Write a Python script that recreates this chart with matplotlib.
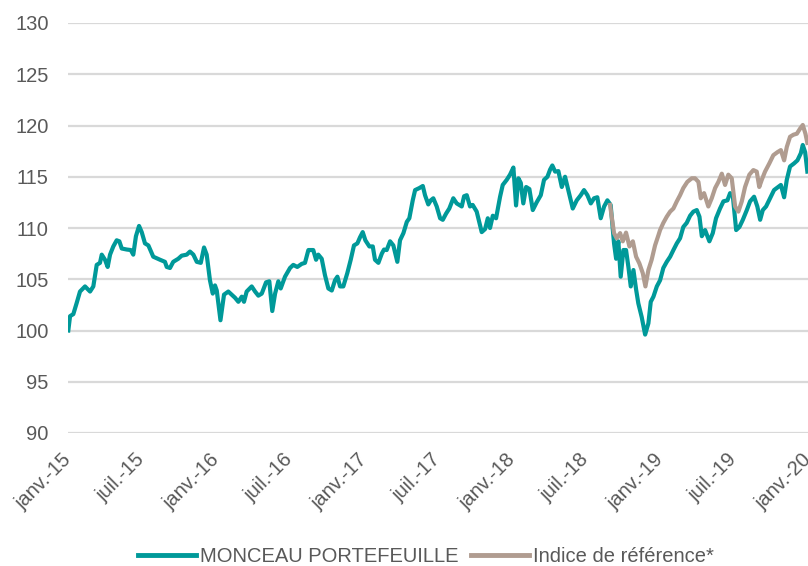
import matplotlib
matplotlib.use("Agg")
import matplotlib.pyplot as plt
import pandas as pd
import numpy as np

# ---- data (time as years elapsed since 1 Jan 2015) ----
fund_t = [0.002, 0.014, 0.036, 0.059, 0.081, 0.115, 0.149, 0.171, 0.194, 0.216, 0.228, 0.250,
          0.268, 0.284, 0.306, 0.329, 0.347, 0.363, 0.397, 0.424, 0.441, 0.459, 0.480, 0.498,
          0.520, 0.543, 0.576, 0.622, 0.655, 0.667, 0.689, 0.711, 0.745, 0.768, 0.802, 0.824,
          0.847, 0.870, 0.897, 0.919, 0.937, 0.959, 0.978, 0.993, 1.005, 1.030, 1.054, 1.083,
          1.106, 1.128, 1.151, 1.174, 1.189, 1.207, 1.241, 1.264, 1.286, 1.309, 1.338, 1.360,
          1.380, 1.399, 1.421, 1.437, 1.466, 1.500, 1.522, 1.549, 1.579, 1.601, 1.624, 1.657,
          1.676, 1.691, 1.714, 1.736, 1.759, 1.782, 1.804, 1.820, 1.838, 1.860, 1.887, 1.910,
          1.932, 1.955, 1.973, 1.991, 2.009, 2.036, 2.059, 2.074, 2.097, 2.120, 2.135, 2.153,
          2.176, 2.198, 2.225, 2.243, 2.266, 2.289, 2.306, 2.329, 2.345, 2.374, 2.397, 2.412,
          2.434, 2.451, 2.468, 2.491, 2.514, 2.532, 2.554, 2.576, 2.603, 2.626, 2.660, 2.676,
          2.694, 2.716, 2.734, 2.761, 2.795, 2.818, 2.836, 2.851, 2.870, 2.892, 2.919, 2.937,
          2.964, 2.986, 3.009, 3.027, 3.043, 3.059, 3.076, 3.095, 3.117, 3.140, 3.166, 3.194,
          3.216, 3.239, 3.257, 3.272, 3.291, 3.313, 3.336, 3.358, 3.380, 3.410, 3.437, 3.464,
          3.486, 3.509, 3.532, 3.554, 3.576, 3.599, 3.622, 3.644, 3.666, 3.689, 3.703, 3.718,
          3.734, 3.752, 3.770, 3.786, 3.802, 3.820, 3.838, 3.853, 3.876, 3.899, 3.921, 3.937,
          3.955, 3.978, 4.000, 4.022, 4.045, 4.068, 4.090, 4.113, 4.135, 4.157, 4.180, 4.203,
          4.225, 4.248, 4.266, 4.282, 4.304, 4.333, 4.356, 4.378, 4.405, 4.428, 4.455, 4.473,
          4.491, 4.514, 4.536, 4.559, 4.586, 4.608, 4.635, 4.657, 4.676, 4.694, 4.716, 4.743,
          4.770, 4.793, 4.816, 4.838, 4.856, 4.878, 4.905, 4.928, 4.951, 4.964, 4.980, 4.995]
fund_v = [100.0, 101.4, 101.6, 102.7, 103.8, 104.3, 103.8, 104.3, 106.4, 106.6, 107.4, 106.9,
          106.2, 107.4, 108.2, 108.8, 108.7, 108.0, 107.9, 107.85, 107.4, 109.2, 110.2, 109.6,
          108.5, 108.3, 107.2, 106.9, 106.7, 106.2, 106.1, 106.7, 107.0, 107.3, 107.4, 107.7,
          107.4, 106.7, 106.6, 108.1, 107.4, 104.9, 103.6, 104.4, 103.9, 101.0, 103.5, 103.8,
          103.5, 103.2, 102.8, 103.3, 102.8, 103.8, 104.3, 103.8, 103.4, 103.6, 104.7, 104.8,
          101.9, 103.6, 104.8, 104.1, 105.25, 106.1, 106.4, 106.2, 106.5, 106.6, 107.85, 107.85,
          106.9, 107.4, 107.0, 105.4, 104.1, 103.9, 104.9, 105.25, 104.3, 104.3, 105.6, 106.9,
          108.3, 108.5, 109.1, 109.6, 108.8, 108.2, 108.2, 106.9, 106.6, 107.5, 107.9, 107.85,
          108.7, 108.3, 106.7, 108.8, 109.5, 110.6, 110.95, 112.7, 113.7, 113.9, 114.1, 113.2,
          112.3, 112.7, 112.9, 112.1, 110.95, 110.8, 111.4, 111.9, 112.9, 112.4, 112.1, 113.1,
          113.2, 112.1, 112.25, 111.6, 109.6, 109.9, 110.95, 110.0, 111.2, 110.95, 113.05, 114.2,
          114.7, 115.2, 115.9, 112.2, 114.85, 114.4, 112.4, 114.0, 113.8, 111.75, 112.5, 113.2,
          114.7, 115.0, 115.7, 116.1, 115.5, 115.55, 114.0, 115.0, 113.7, 111.9, 112.7, 113.2,
          113.7, 113.2, 112.4, 112.9, 113.0, 110.95, 112.1, 112.7, 112.25, 108.5, 107.0, 108.7,
          105.25, 107.85, 107.85, 106.2, 104.3, 105.9, 104.0, 102.65, 101.3, 99.6, 100.7, 102.8,
          103.3, 104.3, 104.9, 106.1, 106.7, 107.2, 107.85, 108.5, 109.0, 110.1, 110.5, 111.2,
          111.6, 111.75, 111.1, 109.2, 109.8, 108.7, 109.5, 110.95, 111.9, 112.6, 112.7, 113.4,
          113.2, 109.8, 110.1, 110.8, 111.75, 112.6, 113.05, 112.1, 110.8, 111.75, 112.1, 112.9,
          113.7, 113.95, 114.2, 113.0, 114.7, 116.0, 116.3, 116.6, 117.3, 118.1, 117.4, 115.5]

index_t = [3.662, 3.689, 3.707, 3.730, 3.748, 3.770, 3.793, 3.816, 3.838, 3.860, 3.883, 3.901,
           3.921, 3.943, 3.966, 3.989, 4.000, 4.022, 4.045, 4.068, 4.090, 4.113, 4.135, 4.157,
           4.184, 4.214, 4.236, 4.259, 4.275, 4.297, 4.326, 4.349, 4.372, 4.394, 4.417, 4.439,
           4.461, 4.484, 4.507, 4.529, 4.552, 4.574, 4.603, 4.630, 4.653, 4.670, 4.687, 4.709,
           4.738, 4.765, 4.793, 4.816, 4.838, 4.856, 4.878, 4.901, 4.924, 4.946, 4.964, 4.982,
           4.995]
index_v = [112.25, 109.5, 109.0, 109.5, 108.7, 109.55, 108.2, 108.7, 107.2, 106.55, 105.6, 104.3,
           105.9, 106.9, 108.3, 109.3, 109.8, 110.5, 111.1, 111.6, 111.9, 112.6, 113.2, 113.9,
           114.5, 114.85, 114.85, 114.5, 112.9, 113.4, 112.1, 112.9, 113.9, 114.5, 115.3, 114.2,
           115.2, 114.85, 112.1, 111.6, 112.6, 114.0, 115.2, 115.65, 115.5, 114.0, 114.7, 115.5,
           116.3, 117.1, 117.4, 117.6, 116.6, 117.9, 118.9, 119.1, 119.2, 119.7, 120.05, 119.2,
           118.3]

tick_dates = ["2015-01-01", "2015-07-01", "2016-01-01", "2016-07-01", "2017-01-01", "2017-07-01",
              "2018-01-01", "2018-07-01", "2019-01-01", "2019-07-01", "2020-01-01"]
tick_labels = ["janv.-15", "juil.-15", "janv.-16", "juil.-16", "janv.-17", "juil.-17",
               "janv.-18", "juil.-18", "janv.-19", "juil.-19", "janv.-20"]
series_names = ["MONCEAU PORTEFEUILLE", "Indice de référence*"]
y_ticks = [90, 95, 100, 105, 110, 115, 120, 125, 130]

# ---- build ----
origin = pd.Timestamp("2015-01-01")
def to_dates(t):
    return origin + pd.to_timedelta(np.asarray(t) * 365.25, unit="D")

plt.rcParams["font.family"] = ["Liberation Sans", "DejaVu Sans"]

fig = plt.figure(figsize=(8.08, 5.66), dpi=100)
ax = fig.add_axes([68 / 808, 1 - 433 / 566, 1 - 68 / 808, (433 - 23) / 566])

teal = "#009999"
brown = "#b09c90"
ax.plot(to_dates(fund_t), fund_v, color=teal, lw=3.0, solid_joinstyle="round",
        label=series_names[0], zorder=3)
ax.plot(to_dates(index_t), index_v, color=brown, lw=3.0, solid_joinstyle="round",
        label=series_names[1], zorder=4)

ax.set_xlim(pd.Timestamp(tick_dates[0]), pd.Timestamp(tick_dates[-1]))
ax.set_ylim(90, 130)
ax.set_yticks(y_ticks)
ax.set_xticks(pd.to_datetime(tick_dates))
ax.set_xticklabels(tick_labels, rotation=45, ha="right", va="center",
                   rotation_mode="anchor")
ax.grid(axis="y", color="#d9d9d9", lw=1.6)
ax.set_axisbelow(True)
for s in ax.spines.values():
    s.set_visible(False)
ax.tick_params(axis="y", length=0, pad=14, labelsize=14.5, labelcolor="#595959")
ax.tick_params(axis="x", length=0, pad=17, labelsize=14.5, labelcolor="#595959")

leg = fig.legend(loc="lower center", bbox_to_anchor=(0.527, -0.032), ncol=2, frameon=False,
                 fontsize=14.5, handlelength=2.9, handletextpad=0.2, columnspacing=0.6,
                 labelcolor="#595959")
for h in leg.get_lines():
    h.set_linewidth(3.5)

fig.savefig("out.png", dpi=100)
